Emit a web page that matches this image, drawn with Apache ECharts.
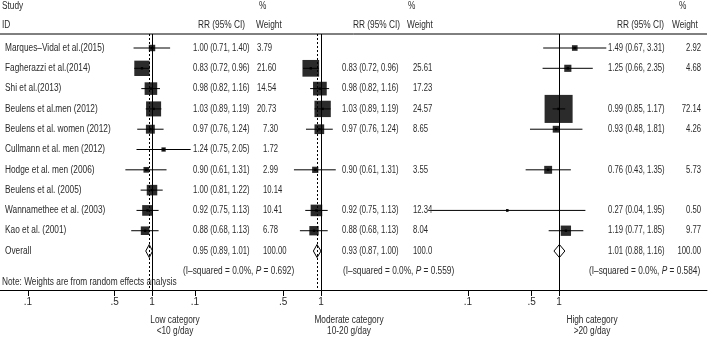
<!DOCTYPE html>
<html>
<head>
<meta charset="utf-8">
<script src="https://cdn.jsdelivr.net/npm/echarts@6/dist/echarts.min.js"></script>
<style>
html, body { margin: 0; padding: 0; background: #fff; }
#main { width: 709px; height: 337px; }
</style>
</head>
<body>
<div id="main"></div>
<script>
// study rows
var studies = [
    'Marques–Vidal et al.(2015)', 'Fagherazzi et al.(2014)', 'Shi et al.(2013)',
    'Beulens et al.men (2012)', 'Beulens et al. women (2012)', 'Cullmann et al. men (2012)',
    'Hodge et al. men (2006)', 'Beulens et al. (2005)', 'Wannamethee et al. (2003)', 'Kao et al. (2001)'
];

// low category <10 g/day
var lowRR     = [1.00, 0.83, 0.98, 1.03, 0.97, 1.24, 0.90, 1.00, 0.92, 0.88];
var lowLo     = [0.71, 0.72, 0.82, 0.89, 0.76, 0.75, 0.61, 0.81, 0.75, 0.68];
var lowHi     = [1.40, 0.96, 1.16, 1.19, 1.24, 2.05, 1.31, 1.22, 1.13, 1.13];
var lowWeight = [3.79, 21.60, 14.54, 20.73, 7.30, 1.72, 2.99, 10.14, 10.41, 6.78];

// moderate category 10-20 g/day
var modRR     = [null, 0.83, 0.98, 1.03, 0.97, null, 0.90, null, 0.92, 0.88];
var modLo     = [null, 0.72, 0.82, 0.89, 0.76, null, 0.61, null, 0.75, 0.68];
var modHi     = [null, 0.96, 1.16, 1.19, 1.24, null, 1.31, null, 1.13, 1.13];
var modWeight = [null, 25.61, 17.23, 24.57, 8.65, null, 3.55, null, 12.34, 8.04];

// high category >20 g/day
var highRR     = [1.49, 1.25, null, 0.99, 0.93, null, 0.76, null, 0.27, 1.19];
var highLo     = [0.67, 0.66, null, 0.85, 0.48, null, 0.43, null, 0.04, 0.77];
var highHi     = [3.31, 2.35, null, 1.17, 1.81, null, 1.35, null, 1.95, 1.85];
var highWeight = [2.92, 4.68, null, 72.14, 4.26, null, 5.73, null, 0.50, 9.77];

// pooled estimates (low, moderate, high)
var overallRR     = [0.95, 0.93, 1.01];
var overallLo     = [0.89, 0.87, 0.88];
var overallHi     = [1.01, 1.00, 1.16];
var overallWeight = ['100.00', '100.0', '100.00'];
var iSquared      = ['0.0%', '0.0%', '0.0%'];
var pValues       = ['0.692', '0.559', '0.584'];

var tickValues = [0.1, 0.5, 1];
var tickLabels = ['.1', '.5', '1'];
var categoryNames  = ['Low category', 'Moderate category', 'High category'];
var categoryRanges = ['<10 g/day', '10-20 g/day', '>20 g/day'];

var FONT = '"Liberation Sans", Arial, sans-serif';
var FS = 10;
var TXT = '#2a2a2a';
var SX = 0.83;      // narrow the text like the original condensed face
var SX_NUM = 0.77;

var panels = [
    { rr: lowRR, lo: lowLo, hi: lowHi, w: lowWeight,
      left: 0, width: 185, one: 152, decade: 124,
      rrX: 193, wX: 263, wXTop: 257, wAlign: 'left', isqX: 183,
      headRR: 198, headPct: 259, headW: 256, catX: 175 },
    { rr: modRR, lo: modLo, hi: modHi, w: modWeight,
      left: 185, width: 275, one: 321, decade: 126,
      rrX: 342, wX: 413, wXTop: 413, wAlign: 'left', isqX: 343,
      headRR: 353, headPct: 408, headW: 407, catX: 349 },
    { rr: highRR, lo: highLo, hi: highHi, w: highWeight,
      left: 460, width: 247, one: 559, decade: 91,
      rrX: 608, wX: 701, wXTop: 701, wAlign: 'right', isqX: 589,
      headRR: 617, headPct: 679, headW: 672, catX: 592 }
];

var ROW_MIN = -0.69, ROW_MAX = 11.92;
var OVERALL_ROW = 10, ISQ_ROW = 11;

function lg(v) { return Math.log(v) / Math.LN10; }
function fmt(rr, lo, hi) {
    return rr.toFixed(2) + ' (' + lo.toFixed(2) + ', ' + hi.toFixed(2) + ')';
}
function txt(x, y, s, align, sx) {
    return { type: 'text', x: x, y: y, scaleX: sx || SX,
        style: { text: s, fill: TXT, fontSize: FS, fontFamily: FONT,
                 align: align || 'left', verticalAlign: 'middle' } };
}

var grids = [], xAxes = [], yAxes = [], series = [];

panels.forEach(function (p, k) {
    grids.push({ left: p.left, width: p.width, top: 34, height: 256 });
    xAxes.push({
        type: 'value', gridIndex: k,
        min: (p.left - p.one) / p.decade,
        max: (p.left + p.width - p.one) / p.decade,
        splitLine: { show: false },
        axisLine: { show: true, onZero: false, lineStyle: { color: '#000', width: 1 } },
        axisTick: { show: true, length: 6, customValues: tickValues.map(lg),
                    lineStyle: { color: '#000' } },
        axisLabel: { show: true, margin: 7, customValues: tickValues.map(lg),
                     color: TXT, fontSize: FS, fontFamily: FONT,
                     formatter: function (v) {
                         for (var i = 0; i < tickValues.length; i++) {
                             if (Math.abs(lg(tickValues[i]) - v) < 1e-6) return tickLabels[i];
                         }
                         return '';
                     } }
    });
    yAxes.push({ type: 'value', gridIndex: k, inverse: true, show: false,
                 min: ROW_MIN, max: ROW_MAX });

    var rows = [];
    for (var r = 0; r <= ISQ_ROW; r++) rows.push([0, r]);

    series.push({
        type: 'custom', xAxisIndex: k, yAxisIndex: k, clip: false,
        data: rows,
        renderItem: function (params, api) {
            var r = params.dataIndex;
            var yc = api.coord([0, r])[1];
            var ch = [];
            if (k === 0 && r < studies.length) ch.push(txt(5, yc, studies[r]));
            if (r < studies.length && p.rr[r] != null) {
                var c = api.coord([lg(p.rr[r]), r]);
                var a = api.coord([lg(p.lo[r]), r]);
                var b = api.coord([lg(p.hi[r]), r]);
                var s = 3.3 * Math.sqrt(p.w[r]);
                ch.push({ type: 'rect', shape: { x: c[0] - s / 2, y: c[1] - s / 2, width: s, height: s },
                          style: { fill: '#2b2b2b' } });
                ch.push({ type: 'line', shape: { x1: a[0], y1: a[1], x2: b[0], y2: b[1] },
                          style: { stroke: '#000', lineWidth: 1 } });
                ch.push({ type: 'rect', shape: { x: c[0] - 1.2, y: c[1] - 1.2, width: 2.4, height: 2.4 },
                          style: { fill: '#000' } });
                ch.push(txt(p.rrX, yc, fmt(p.rr[r], p.lo[r], p.hi[r]), 'left', SX_NUM));
                ch.push(txt(r < 4 ? p.wXTop : p.wX, yc, p.w[r].toFixed(2), p.wAlign, SX_NUM));
            }
            if (r === OVERALL_ROW) {
                var m = api.coord([lg(overallRR[k]), r]);
                var l = api.coord([lg(overallLo[k]), r]);
                var h = api.coord([lg(overallHi[k]), r]);
                ch.push({ type: 'polygon',
                          shape: { points: [[l[0], m[1]], [m[0], m[1] - 6.5], [h[0], m[1]], [m[0], m[1] + 6.5]] },
                          style: { fill: '#fff', stroke: '#000', lineWidth: 1 } });
                if (k === 0) ch.push(txt(5, yc, 'Overall'));
                ch.push(txt(p.rrX, yc, fmt(overallRR[k], overallLo[k], overallHi[k]), 'left', SX_NUM));
                ch.push(txt(p.wX, yc, overallWeight[k], p.wAlign, SX_NUM));
            }
            if (r === ISQ_ROW) {
                ch.push({ type: 'text', x: p.isqX, y: yc, scaleX: SX,
                    style: { text: '(I–squared = ' + iSquared[k] + ', {i|P} = ' + pValues[k] + ')',
                             fill: TXT, fontSize: FS, fontFamily: FONT, align: 'left', verticalAlign: 'middle',
                             rich: { i: { fontStyle: 'italic', fill: TXT, fontSize: FS, fontFamily: FONT } } } });
            }
            return { type: 'group', children: ch };
        },
        markLine: {
            silent: true, symbol: ['none', 'none'], label: { show: false },
            data: [
                { xAxis: 0, lineStyle: { color: '#000', type: 'solid', width: 1 } },
                { xAxis: lg(overallRR[k]), lineStyle: { color: '#000', type: [2, 2], width: 1 } }
            ]
        },
        z: 3
    });
});

var graphics = [
    { type: 'line', shape: { x1: 0, y1: 34, x2: 707, y2: 34 }, style: { stroke: '#000', lineWidth: 1 } },
    txt(2, 6, 'Study'), txt(2, 25, 'ID'),
    txt(2, 282, 'Note: Weights are from random effects analysis')
];
panels.forEach(function (p, k) {
    graphics.push(txt(p.headRR, 25, 'RR (95% CI)'));
    graphics.push(txt(p.headPct, 6, '%'));
    graphics.push(txt(p.headW, 25, 'Weight'));
    graphics.push(txt(p.catX, 320, categoryNames[k], 'center'));
    graphics.push(txt(p.catX, 331, categoryRanges[k], 'center'));
});

var chart = echarts.init(document.getElementById('main'));
chart.setOption({
    animation: false,
    backgroundColor: '#fff',
    grid: grids,
    xAxis: xAxes,
    yAxis: yAxes,
    series: series,
    graphic: graphics
});
</script>
</body>
</html>
